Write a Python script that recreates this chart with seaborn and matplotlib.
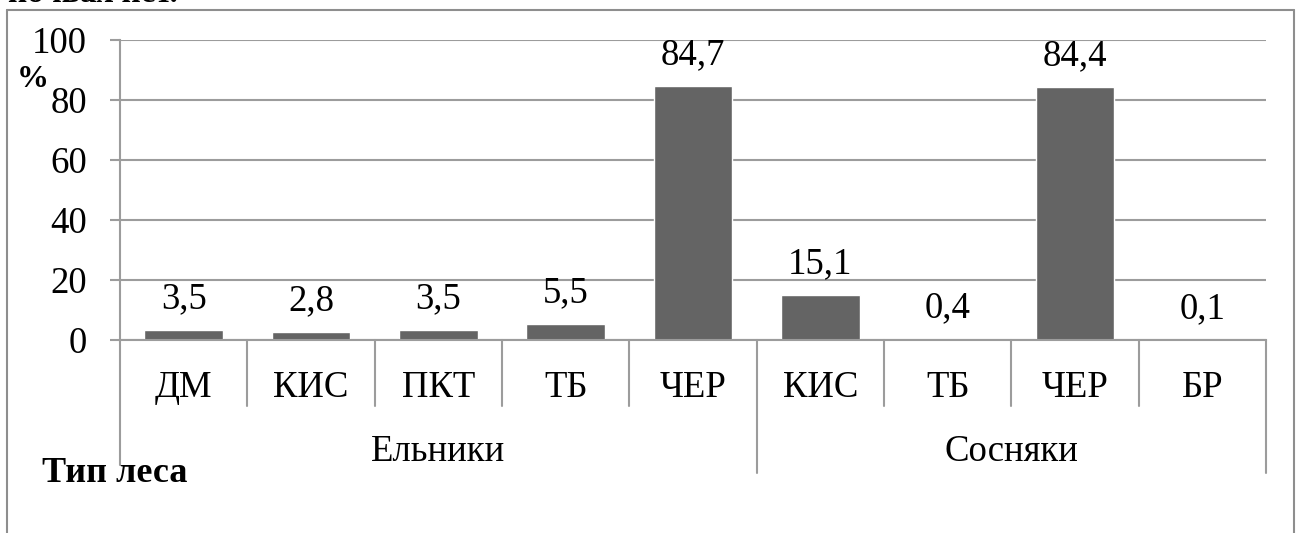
import matplotlib
matplotlib.use("Agg")
import matplotlib.pyplot as plt
import matplotlib.transforms as mtransforms
from matplotlib.lines import Line2D
import pandas as pd
import seaborn as sns

# Share of forest types (%) by stand group
groups = ["Ельники"] * 5 + ["Сосняки"] * 4
forest_types = ["ДМ", "КИС", "ПКТ", "ТБ", "ЧЕР", "КИС", "ТБ", "ЧЕР", "БР"]
shares = [3.5, 2.8, 3.5, 5.5, 84.7, 15.1, 0.4, 84.4, 0.1]
group_names = ["Ельники", "Сосняки"]
y_ticks = [0, 20, 40, 60, 80, 100]

sns.set_theme(style="white")
plt.rcParams["font.family"] = ["Liberation Serif", "DejaVu Serif"]

df = pd.DataFrame({"group": groups, "type": forest_types, "share": shares})
df["key"] = df["group"] + " " + df["type"]

W, H = 1300, 533
GRID = "#9c9c9c"
FRAME = "#8e8e8e"
BAR = "#646464"
FS = 26.5


def fx(px):
    return px / W


def fy(py):
    return 1 - py / H


fig = plt.figure(figsize=(W / 100, H / 100), dpi=100)
fig.patch.set_facecolor("white")

# plot area: y=0 at 340 px, y=100 at 40 px
ax = fig.add_axes([fx(120), fy(340), (1266 - 120) / W, 300 / H])
sns.barplot(data=df, x="key", y="share", color=BAR, width=0.62,
            saturation=1, ax=ax)

ax.set_xlim(-0.5, len(shares) - 0.5)
ax.set_ylim(0, 100)
ax.set_yticks(y_ticks)
ax.set_xticks([])
ax.set_xlabel("")
ax.set_ylabel("")
ax.yaxis.grid(True, color=GRID, lw=1.5)
ax.set_axisbelow(True)
ax.tick_params(axis="y", left=True, length=7.2, width=1.5, color=GRID,
               pad=16.5, labelsize=FS, labelcolor="black")
for side in ("top", "right"):
    ax.spines[side].set_visible(False)
for side in ("left", "bottom"):
    ax.spines[side].set_color(GRID)
    ax.spines[side].set_linewidth(1.5)


def yax(py):
    return (340 - py) / 300


blend = mtransforms.blended_transform_factory(ax.transData, ax.transAxes)

# value labels above bars
for patch, v in zip(ax.patches, shares):
    x = patch.get_x() + patch.get_width() / 2
    ax.annotate(f"{v:.1f}".replace(".", ","), (x, patch.get_height()),
                xytext=(0, 15.5), textcoords="offset points",
                ha="center", va="baseline", fontsize=FS, color="black")

# two-level category axis
n = len(forest_types)
group_edges = [0]
for i in range(1, n):
    if groups[i] != groups[i - 1]:
        group_edges.append(i)
group_edges.append(n)

for i in range(1, n):
    if i not in group_edges:
        ax.add_line(Line2D([i - 0.5, i - 0.5], [0, yax(406)], transform=blend,
                           color=GRID, lw=1.5, clip_on=False))
for e in group_edges:
    bottom = yax(465) if e == 0 else yax(473)
    ax.add_line(Line2D([e - 0.5, e - 0.5], [0, bottom], transform=blend,
                       color=GRID, lw=1.5, clip_on=False))

for i, t in enumerate(forest_types):
    ax.text(i, yax(397), t, transform=blend, ha="center", va="baseline",
            fontsize=FS, color="black")

for g, a, b in zip(group_names, group_edges[:-1], group_edges[1:]):
    ax.text((a + b - 1) / 2, yax(461), g, transform=blend, ha="center",
            va="baseline", fontsize=FS, color="black")

# axis titles
fig.text(fx(17), fy(87), "%", fontsize=23, fontweight="bold",
         ha="left", va="baseline", color="black")
fig.text(fx(42), fy(482), "Тип леса", fontsize=26, fontweight="bold",
         ha="left", va="baseline", color="black")

# chart frame
fig.add_artist(Line2D([fx(7), fx(7)], [fy(10), -0.1], transform=fig.transFigure,
                      color=FRAME, lw=1.5))
fig.add_artist(Line2D([fx(7), fx(1294)], [fy(10), fy(10)],
                      transform=fig.transFigure, color=FRAME, lw=1.5))
fig.add_artist(Line2D([fx(1294), fx(1294)], [fy(10), -0.1],
                      transform=fig.transFigure, color=FRAME, lw=1.5))

# end of the preceding line of text
fig.text(fx(8), fy(2), "почвах нет.", fontsize=24, fontweight="bold",
         ha="left", va="baseline", color="black")

fig.savefig("out.png", dpi=100, facecolor="white")
